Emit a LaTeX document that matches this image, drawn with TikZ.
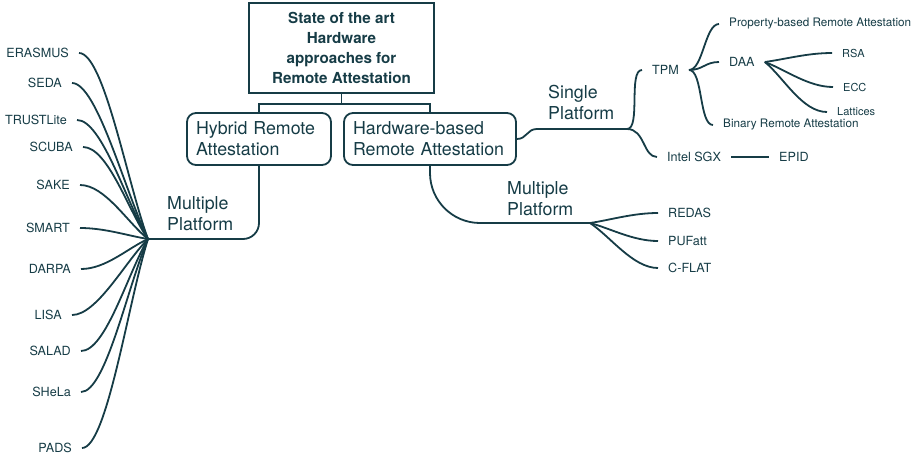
\documentclass[tikz,border=0pt]{standalone}
\usepackage{fontspec}
\setmainfont{TeX Gyre Heros}
\usepackage{tikz}
\usetikzlibrary{calc,positioning}
\definecolor{mapink}{RGB}{22,60,70}
\tikzset{branch/.style={draw=mapink,line width=1.8pt},
  rootbox/.style={draw=mapink,line width=1.8pt,align=center,inner sep=0pt,minimum width=185pt,minimum height=90pt,font=\fontsize{15.2}{20}\selectfont\bfseries},
  topicbox/.style={draw=mapink,line width=1.8pt,rounded corners=9pt,align=left,inner xsep=9pt,inner ysep=0pt,minimum height=52pt,font=\fontsize{17.8}{21}\selectfont},
  sublabel/.style={align=left,inner sep=0pt,anchor=west,font=\fontsize{17.8}{21}\selectfont},
  leaf/.style={inner xsep=10pt,inner ysep=2pt,font=\fontsize{12.6}{14}\selectfont},
  longleaf/.style={leaf,font=\fontsize{11.7}{14}\selectfont},
  smallleaf/.style={leaf,font=\fontsize{11}{12}\selectfont}}

\begin{document}
\begin{tikzpicture}[x=1pt,y=-1pt,every node/.append style={text=mapink}]

\useasboundingbox (0,0) rectangle (923,458);

% Main boxes
\node[rootbox] (root) at (341.5,48) {State of the art\\Hardware\\approaches for\\Remote Attestation};
\node[topicbox,text width=126pt] (hybrid) at (259,139) {Hybrid Remote\\Attestation};
\node[topicbox,text width=154pt] (hardware) at (430,139) {Hardware-based\\Remote Attestation};
\coordinate (rootjoin) at ($(root.south)+(0,10)$);
\draw[branch] (root.south) -- (rootjoin);
\draw[branch] (hybrid.north) |- (rootjoin) -| (hardware.north);

% Hybrid, multiple platform
\coordinate (hfan) at (148,239);
\node[sublabel] (hmulti) at (167,213.5) {Multiple\\Platform};
\draw[branch,rounded corners=16pt] (hybrid.south) |- (hfan);

\node[leaf,anchor=east] (erasmus) at (79,53) {ERASMUS};
\node[leaf,anchor=east] (seda) at (72,83) {SEDA};
\node[leaf,anchor=east] (trustlite) at (77,120) {TRUSTLite};
\node[leaf,anchor=east] (scuba) at (83,147) {SCUBA};
\node[leaf,anchor=east] (sake) at (80,185) {SAKE};
\node[leaf,anchor=east] (smart) at (80,228) {SMART};
\node[leaf,anchor=east] (darpa) at (81,269) {DARPA};
\node[leaf,anchor=east] (lisa) at (72,315) {LISA};
\node[leaf,anchor=east] (salad) at (81,351) {SALAD};
\node[leaf,anchor=east] (shela) at (81,392) {SHeLa};
\node[leaf,anchor=east] (pads) at (82,448) {PADS};

\draw[branch] (erasmus.east) .. controls +(25,0) and ($(hfan)!0.3!(erasmus.east)$) .. (hfan);
\draw[branch] (seda.east) .. controls +(25,0) and ($(hfan)!0.3!(seda.east)$) .. (hfan);
\draw[branch] (trustlite.east) .. controls +(25,0) and ($(hfan)!0.3!(trustlite.east)$) .. (hfan);
\draw[branch] (scuba.east) .. controls +(25,0) and ($(hfan)!0.3!(scuba.east)$) .. (hfan);
\draw[branch] (sake.east) .. controls +(25,0) and ($(hfan)!0.3!(sake.east)$) .. (hfan);
\draw[branch] (smart.east) .. controls +(25,0) and ($(hfan)!0.3!(smart.east)$) .. (hfan);
\draw[branch] (darpa.east) .. controls +(25,0) and ($(hfan)!0.3!(darpa.east)$) .. (hfan);
\draw[branch] (lisa.east) .. controls +(25,0) and ($(hfan)!0.3!(lisa.east)$) .. (hfan);
\draw[branch] (salad.east) .. controls +(25,0) and ($(hfan)!0.3!(salad.east)$) .. (hfan);
\draw[branch] (shela.east) .. controls +(25,0) and ($(hfan)!0.3!(shela.east)$) .. (hfan);
\draw[branch] (pads.east) .. controls +(25,0) and ($(hfan)!0.3!(pads.east)$) .. (hfan);

% Hardware-based, single platform
\coordinate (sfan) at (627,129);
\node[sublabel] (single) at (548,102.5) {Single\\Platform};
\draw[branch] (hardware.east) .. controls +(10,0) and +(-10,0) .. ++(20,-10) -- (sfan);

\node[leaf,anchor=west] (tpm) at (642,70) {TPM};
\node[leaf,anchor=west] (sgx) at (657,157) {Intel SGX};
\node[leaf,anchor=west] (epid) at (769,157) {EPID};
\draw[branch] (sfan) .. controls +(14,0) and +(-14,0) .. (tpm.west);
\draw[branch] (sfan) .. controls +(18,0) and +(-14,0) .. (sgx.west);
\draw[branch] (sgx.east) -- (epid.west);

\node[longleaf,anchor=west] (propra) at (719,24) {Property-based Remote Attestation};
\node[leaf,anchor=west] (daa) at (719,62) {DAA};
\node[longleaf,anchor=west] (binra) at (713,125) {Binary Remote Attestation};
\draw[branch] (tpm.east) .. controls +(14,0) and +(-14,0) .. (propra.west);
\draw[branch] (tpm.east) .. controls +(14,0) and +(-14,0) .. (daa.west);
\draw[branch] (tpm.east) .. controls +(14,0) and +(-14,0) .. (binra.west);

\node[smallleaf,anchor=west] (rsa) at (832,53) {RSA};
\node[smallleaf,anchor=west] (ecc) at (833,87) {ECC};
\node[smallleaf,anchor=west] (lattices) at (827,112) {Lattices};
\draw[branch] (daa.east) .. controls ($(daa.east)!0.3!(rsa.west)$) and +(-25,0) .. (rsa.west);
\draw[branch] (daa.east) .. controls ($(daa.east)!0.3!(ecc.west)$) and +(-25,0) .. (ecc.west);
\draw[branch] (daa.east) .. controls ($(daa.east)!0.3!(lattices.west)$) and +(-25,0) .. (lattices.west);

% Hardware-based, multiple platform
\coordinate (wfan) at (590,223);
\node[sublabel] (wmulti) at (507,198.5) {Multiple\\Platform};
\draw[branch,rounded corners=50pt] (hardware.south) |- (wfan);

\node[leaf,anchor=west] (redas) at (658,213) {REDAS};
\node[leaf,anchor=west] (pufatt) at (658,241) {PUFatt};
\node[leaf,anchor=west] (cflat) at (658,268) {C-FLAT};
\draw[branch] (wfan) .. controls ($(wfan)!0.3!(redas.west)$) and +(-25,0) .. (redas.west);
\draw[branch] (wfan) .. controls ($(wfan)!0.3!(pufatt.west)$) and +(-25,0) .. (pufatt.west);
\draw[branch] (wfan) .. controls ($(wfan)!0.3!(cflat.west)$) and +(-25,0) .. (cflat.west);

\end{tikzpicture}
\end{document}
